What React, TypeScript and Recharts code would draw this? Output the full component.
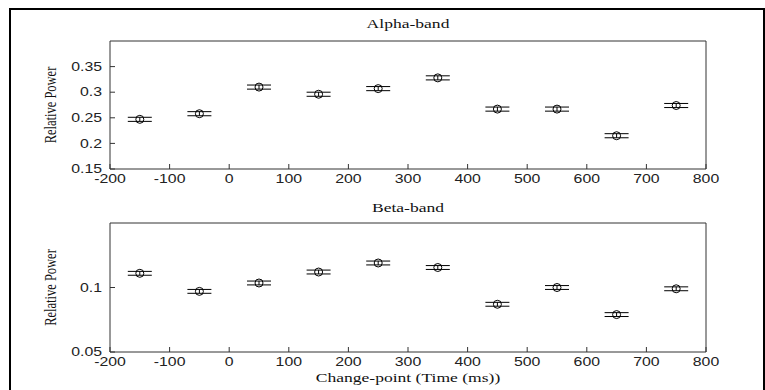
import React from "react";
import { ScatterChart, Scatter, XAxis, YAxis, ErrorBar } from "recharts";

// change-point times (ms)
const times = [-150, -50, 50, 150, 250, 350, 450, 550, 650, 750];

const alphaPower = [0.247, 0.258, 0.31, 0.296, 0.307, 0.328, 0.267, 0.267, 0.215, 0.274];
const alphaErr = [0.004, 0.004, 0.004, 0.004, 0.004, 0.004, 0.004, 0.004, 0.004, 0.004];

const betaPower = [0.111, 0.097, 0.1035, 0.112, 0.119, 0.1155, 0.087, 0.1, 0.079, 0.099];
const betaErr = [0.0015, 0.0015, 0.0015, 0.0015, 0.0015, 0.0015, 0.0015, 0.0015, 0.0015, 0.0015];

const xTicks = [-200, -100, 0, 100, 200, 300, 400, 500, 600, 700, 800];
const alphaTicks = [0.15, 0.2, 0.25, 0.3, 0.35];
const betaTicks = [0.05, 0.1];

const SERIF = "'Liberation Serif', 'Times New Roman', serif";
const SANS = "'Liberation Sans', Arial, sans-serif";
const AXIS = "#333";

const toRows = (vals: number[], errs: number[]) =>
  times.map((t, i) => ({ t, v: vals[i], err: errs[i] }));

// matlab-ish text is stretched sideways in the source image
function SansTick(props: any) {
  const { x, y, payload, axis } = props;
  const isY = axis === "y";
  return (
    <text
      transform={`translate(${x},${y}) scale(1.32,1)`}
      textAnchor={isY ? "end" : "middle"}
      dy={isY ? "0.35em" : "0.71em"}
      fontFamily={SANS}
      fontSize={12}
      fill="#222"
    >
      {String(payload.value)}
    </text>
  );
}

function TitleLabel(props: any) {
  const vb = props.viewBox || { x: 0, y: 0, width: 0, height: 0 };
  return (
    <text
      transform={`translate(${vb.x + vb.width / 2},${vb.y + props.dy}) scale(1.35,1)`}
      textAnchor="middle"
      fontFamily={SERIF}
      fontSize={13}
      fill="#111"
    >
      {props.text}
    </text>
  );
}

function SideLabel(props: any) {
  const vb = props.viewBox || { x: 0, y: 0, width: 0, height: 0 };
  return (
    <text
      transform={`translate(${vb.x},${vb.y + vb.height / 2}) rotate(-90) scale(1,1.3)`}
      textAnchor="middle"
      dy="0.35em"
      fontFamily={SERIF}
      fontSize={12.5}
      fill="#111"
    >
      {props.text}
    </text>
  );
}

function Dot(props: any) {
  const { cx, cy } = props;
  return <circle cx={cx} cy={cy} r={4} fill="none" stroke="#000" strokeWidth={1} />;
}

const Nothing = () => <g />;

function Panel({
  rows, yDomain, yTicks, title, titleDy, top, height, mTop, mBottom, xLabel,
}: {
  rows: { t: number; v: number; err: number }[];
  yDomain: [number, number];
  yTicks: number[];
  title: string;
  titleDy: number;
  top: number;
  height: number;
  mTop: number;
  mBottom: number;
  xLabel?: string;
}) {
  return (
    <div style={{ position: "absolute", left: 0, top }}>
      <ScatterChart
        width={765}
        height={height}
        margin={{ top: mTop - 1, right: 58, bottom: mBottom, left: 50 }}
      >
        <XAxis
          type="number"
          dataKey="t"
          domain={[-200, 800]}
          ticks={xTicks}
          interval={0}
          allowDataOverflow
          height={xLabel ? 30 : 25}
          stroke={AXIS}
          tickSize={-5}
          tickMargin={10}
          tick={<SansTick axis="x" />}
          label={xLabel ? <TitleLabel text={xLabel} dy={29.5} /> : undefined}
        />
        <XAxis
          xAxisId="t"
          orientation="top"
          type="number"
          dataKey="t"
          domain={[-200, 800]}
          ticks={xTicks}
          interval={0}
          allowDataOverflow
          height={1}
          stroke={AXIS}
          tickSize={-5}
          tick={false}
          label={<TitleLabel text={title} dy={titleDy} />}
        />
        <YAxis
          type="number"
          dataKey="v"
          domain={yDomain}
          ticks={yTicks}
          interval={0}
          allowDataOverflow
          width={60}
          stroke={AXIS}
          tickSize={-5}
          tickMargin={13}
          tick={<SansTick axis="y" />}
          label={<SideLabel text="Relative Power" />}
        />
        <YAxis
          yAxisId="r"
          orientation="right"
          type="number"
          dataKey="v"
          domain={yDomain}
          ticks={yTicks}
          interval={0}
          allowDataOverflow
          width={1}
          stroke={AXIS}
          tickSize={-5}
          tick={false}
        />
        <Scatter data={rows} shape={<Dot />} isAnimationActive={false}>
          <ErrorBar dataKey="err" direction="y" width={12} stroke="#000" strokeWidth={1} />
        </Scatter>
        {/* ties the box axes (top/right) to the data so they get drawn */}
        <Scatter data={rows} xAxisId="t" yAxisId="r" shape={<Nothing />} isAnimationActive={false} />
      </ScatterChart>
    </div>
  );
}

export default function App() {
  return (
    <div style={{ position: "absolute", left: 0, top: 0, width: 765, height: 390, background: "#fff" }}>
      <div
        style={{
          position: "absolute", left: 9, top: 8, width: 756, height: 382,
          boxSizing: "border-box", borderLeft: "2px solid #000", borderTop: "2px solid #000",
          borderRight: "2px solid #000",
        }}
      />
      <Panel
        rows={toRows(alphaPower, alphaErr)}
        yDomain={[0.15, 0.4]}
        yTicks={alphaTicks}
        title="Alpha-band"
        titleDy={-12}
        top={0}
        height={195}
        mTop={41}
        mBottom={1}
      />
      <Panel
        rows={toRows(betaPower, betaErr)}
        yDomain={[0.05, 0.15]}
        yTicks={betaTicks}
        title="Beta-band"
        titleDy={-10}
        top={195}
        height={195}
        mTop={28}
        mBottom={8}
        xLabel="Change-point (Time (ms))"
      />
    </div>
  );
}
